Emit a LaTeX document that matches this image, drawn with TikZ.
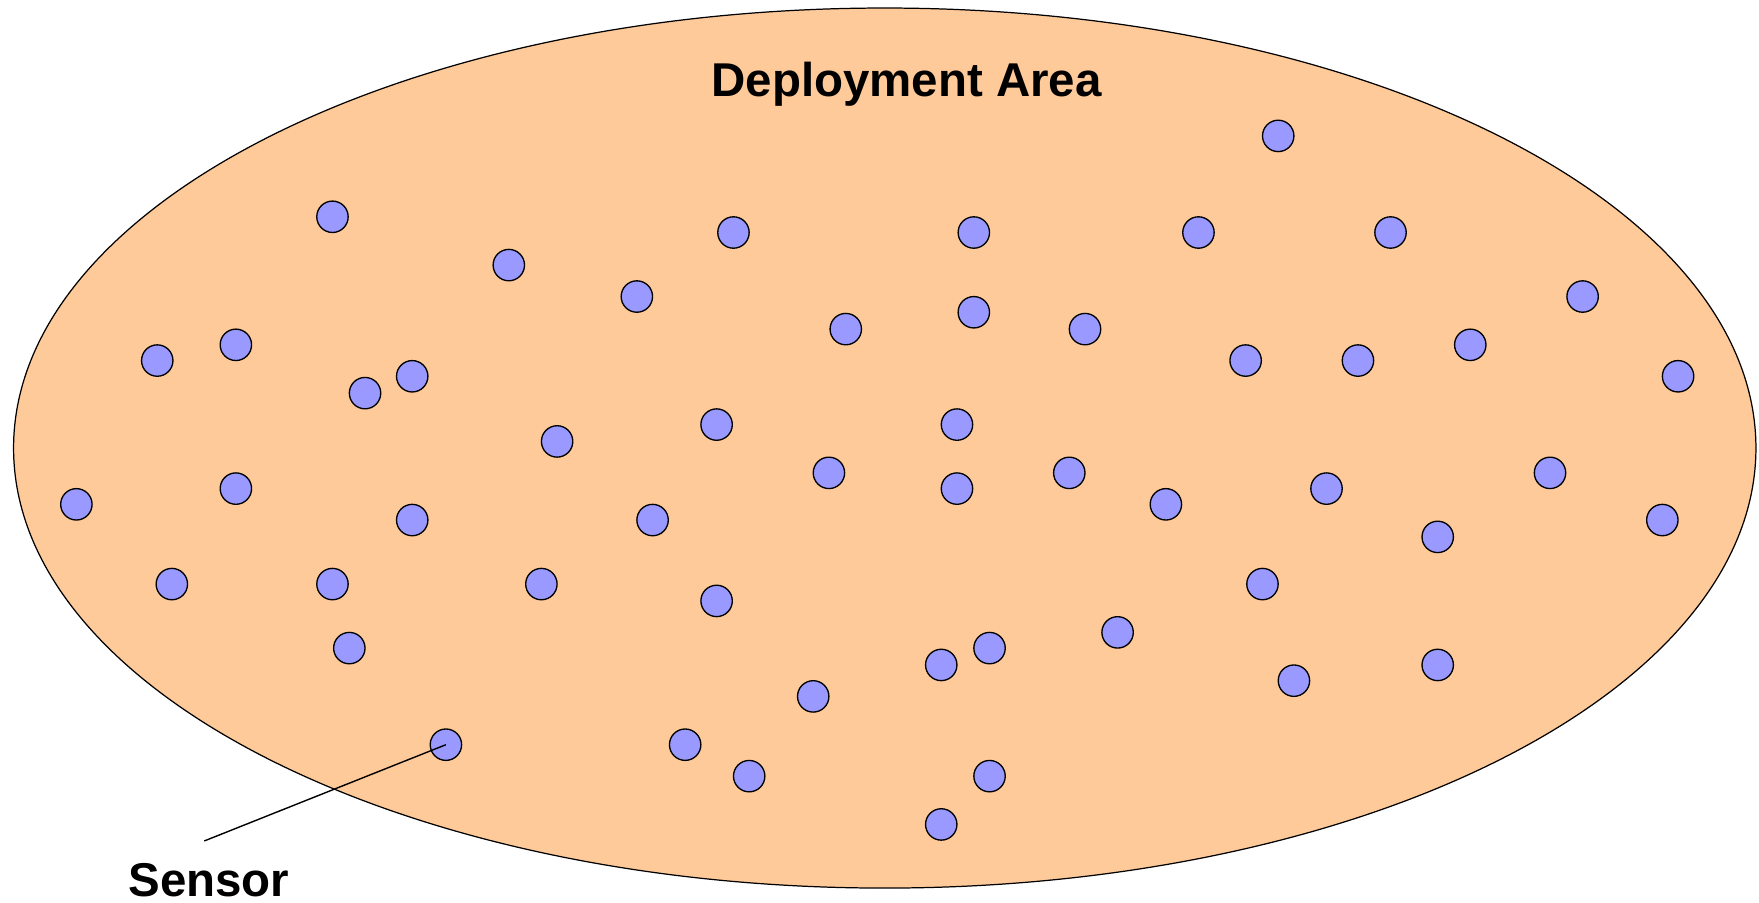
\documentclass[tikz,border=0pt]{standalone}
\usepackage{fontspec}
\setmainfont{Liberation Sans}
\usetikzlibrary{shapes.geometric}
\definecolor{areafill}{HTML}{FFCA99}
\definecolor{sensorfill}{HTML}{9999FF}
\begin{document}
\begin{tikzpicture}[x=0.011232cm, y=-0.011232cm,
  sensornode/.style={circle, draw=black, line width=0.38pt, fill=sensorfill, minimum size=0.314cm, inner sep=0pt},
  arealabel/.style={font=\fontsize{13.5pt}{16pt}\selectfont\bfseries, inner sep=0pt, anchor=base}]
\useasboundingbox (0,0) rectangle (1566.06,803.95);
\node[ellipse, draw=black, line width=0.35pt, fill=areafill, inner sep=0pt, minimum width=17.421cm, minimum height=8.799cm] (area) at (787.7,398.9) {};
\node[arealabel] (title) at (807.2,86.1) {Deployment Area};
\foreach \i/\x/\y in {
 1/1138/121, 2/296/193, 3/653/207, 4/867/207, 5/1067/207, 6/1238/207,
 7/453/236, 8/567/264, 9/1409/264, 10/867/278, 11/753/293, 12/966/293,
 13/210/307, 14/1309/307, 15/140/321, 16/1109/321, 17/1209/321, 18/367/335,
 19/1494/335, 20/325/350, 21/638/378, 22/852/378, 23/496/393, 24/738/421,
 25/952/421, 26/1380/421, 27/210/435, 28/852/435, 29/1181/435, 30/68/449,
 31/1038/449, 32/367/463, 33/581/463, 34/1480/463, 35/1280/478, 36/153/520,
 37/296/520, 38/482/520, 39/1124/520, 40/638/535, 41/995/563, 42/311/577,
 43/881/577, 44/838/592, 45/1280/592, 46/1152/606, 47/724/620, 48/397/663,
 49/610/663, 50/667/691, 51/881/691, 52/838/734}
  \node[sensornode] (s\i) at (\x,\y) {};
\coordinate (lead) at (181.9,748.7);
\draw[line width=0.4pt] (s48.center) -- (lead);
\node[arealabel] (sensorlabel) at (186,798.2) {Sensor};
\end{tikzpicture}
\end{document}
